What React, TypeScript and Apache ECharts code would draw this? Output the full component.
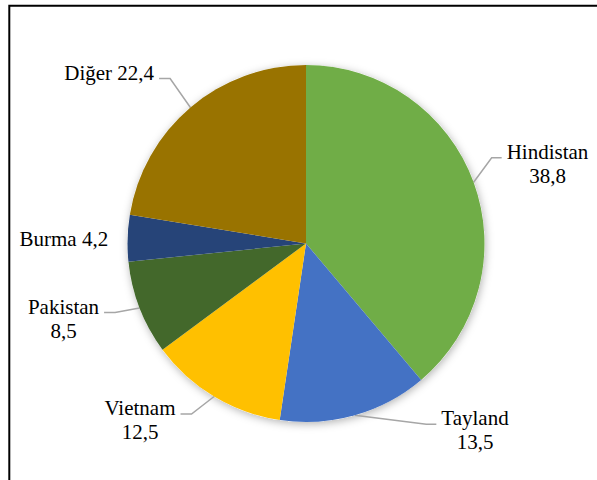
import React, { useEffect, useRef } from 'react';
import * as echarts from 'echarts';

const categories = ['Hindistan', 'Tayland', 'Vietnam', 'Pakistan', 'Burma', 'Diğer'];
const values = [38.8, 13.5, 12.5, 8.5, 4.2, 22.4];
const colors = ['#70AD47', '#4472C4', '#FFC000', '#43682B', '#264478', '#997300'];
const singleLineLabels = ['Burma', 'Diğer'];
const hiddenLeaderLabels = ['Burma'];
// label block centres (layout, not data)
const labelCenters: [number, number][] = [
  [547.5, 163.8],
  [475, 430.3],
  [140, 420],
  [63.5, 318.5],
  [63.8, 239],
  [109.2, 72.5],
];

const PIE_CENTER: [number, number] = [306, 243.5];
const PIE_RADIUS = 178.5;
const FONT_SIZE = 21;
const LINE_H = 24;
const FONT_CSS = '"Liberation Serif", "Times New Roman", serif';
const FONT_FULL = `normal normal ${FONT_SIZE}px ${FONT_CSS}`;

function measure(text: string): number {
  const c = document.createElement('canvas').getContext('2d');
  if (!c) return text.length * 9;
  c.font = `${FONT_SIZE}px ${FONT_CSS}`;
  return Math.max(...text.split('\n').map((t) => c.measureText(t).width));
}

export default function App() {
  const ref = useRef<HTMLDivElement>(null);
  useEffect(() => {
    const chart = echarts.init(ref.current!, null, { renderer: 'svg' });
    const fmt = (v: number) => String(v).replace('.', ',');
    chart.setOption({
      animation: false,
      backgroundColor: '#fff',
      graphic: [
        {
          type: 'rect',
          silent: true,
          z: 0,
          shape: { x: 9.3, y: 5.7, width: 800, height: 800 },
          style: { fill: 'none', stroke: '#000', lineWidth: 2 },
        },
      ],
      series: [
        {
          type: 'pie',
          silent: true,
          z: 1,
          center: PIE_CENTER,
          radius: PIE_RADIUS,
          label: { show: false },
          labelLine: { show: false },
          emphasis: { disabled: true },
          itemStyle: {
            color: '#fff',
            shadowBlur: 8,
            shadowColor: 'rgba(0,0,0,0.3)',
            shadowOffsetX: 1,
            shadowOffsetY: 2,
          },
          data: [{ value: 1 }],
        },
        {
          type: 'pie',
          z: 2,
          center: PIE_CENTER,
          radius: PIE_RADIUS,
          startAngle: 90,
          clockwise: true,
          emphasis: { disabled: true },
          data: categories.map((name, i) => ({
            name,
            value: values[i],
            itemStyle: { color: colors[i] },
            labelLine: { show: !hiddenLeaderLabels.includes(name) },
          })),
          label: {
            show: true,
            position: 'outside',
            color: '#000',
            fontFamily: 'serif',
            fontSize: FONT_SIZE,
            lineHeight: LINE_H,
            formatter: (p: any) =>
              singleLineLabels.includes(p.name)
                ? `${p.name} ${fmt(p.value)}`
                : `${p.name}\n${fmt(p.value)}`,
          },
          labelLine: {
            show: true,
            length: 10,
            length2: 10,
            lineStyle: { color: '#A6A6A6', width: 1.5 },
          },
          labelLayout: (params: any) => {
            const i = params.dataIndex;
            const [cx, cy] = labelCenters[i];
            const w = measure(params.text || '');
            const h = params.labelRect.height;
            const rx = cx - w / 2;
            const ry = cy - h / 2;
            const res: any = { x: cx, y: cy, align: 'center', verticalAlign: 'middle' };
            const pts = params.labelLinePoints;
            if (pts && pts.length) {
              const start = pts[0];
              const right = cx > start[0];
              const endY = ry + 18;
              const endX = right ? rx - 5 : rx + w + 5;
              const elbowX = right ? endX - 10 : endX + 11;
              res.labelLinePoints = [start, [elbowX, endY], [endX, endY]];
            }
            return res;
          },
        },
      ],
    });

    // Force the serif face on the rendered label text elements.
    try {
      const zr: any = chart.getZr();
      const list: any[] = zr.storage.getDisplayList(true);
      list.forEach((el: any) => {
        if (el && el.style && typeof el.style.text === 'string' && el.style.text.length) {
          el.style.font = FONT_FULL;
          el.style.fontFamily = FONT_CSS;
          if (el.dirtyStyle) el.dirtyStyle();
          if (el.markRedraw) el.markRedraw();
        }
      });
      zr.refreshImmediately();
    } catch (e) {
      // ignore
    }
    // DOM-level fallback
    const svgTexts = ref.current?.querySelectorAll('text, tspan');
    svgTexts?.forEach((t: any) => {
      t.style.setProperty('font-family', FONT_CSS, 'important');
    });

    return () => chart.dispose();
  }, []);
  return (
    <>
      <style>{`.pie-chart text, .pie-chart tspan { font-family: ${FONT_CSS} !important; font-weight: normal !important; }`}</style>
      <div
        ref={ref}
        className="pie-chart"
        style={{ position: 'fixed', left: 0, top: 0, width: 597, height: 480 }}
      />
    </>
  );
}
